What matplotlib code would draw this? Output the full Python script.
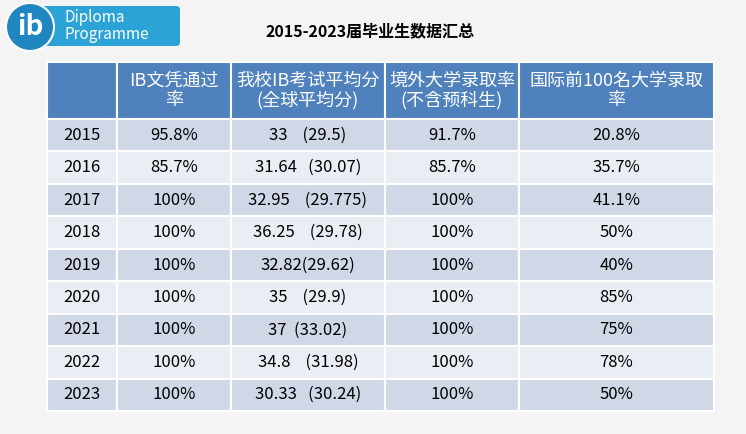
import matplotlib.pyplot as plt
from matplotlib import font_manager
from matplotlib.patches import Rectangle, FancyBboxPatch

# locate a sans CJK font file and register it
cjk_name = None
for path in font_manager.findSystemFonts():
    low = path.lower()
    if 'cjk' in low and 'sans' in low:
        try:
            font_manager.fontManager.addfont(path)
            name = font_manager.FontProperties(fname=path).get_name()
            if cjk_name is None or name.endswith('SC'):
                cjk_name = name
        except Exception:
            pass
plt.rcParams['font.family'] = [cjk_name or 'Noto Sans CJK SC', 'DejaVu Sans']

# Table data
title = '2015-2023届毕业生数据汇总'
headers = ['', 'IB文凭通过\n率', '我校IB考试平均分\n(全球平均分)', '境外大学录取率\n(不含预科生)', '国际前100名大学录取\n率']
years = ['2015', '2016', '2017', '2018', '2019', '2020', '2021', '2022', '2023']
pass_rate = ['95.8%', '85.7%', '100%', '100%', '100%', '100%', '100%', '100%', '100%']
avg_score = ['33    (29.5)', '31.64   (30.07)', '32.95    (29.775)', '36.25    (29.78)', '32.82(29.62)',
             '35    (29.9)', '37  (33.02)', '34.8    (31.98)', '30.33   (30.24)']
overseas_rate = ['91.7%', '85.7%', '100%', '100%', '100%', '100%', '100%', '100%', '100%']
top100_rate = ['20.8%', '35.7%', '41.1%', '50%', '40%', '85%', '75%', '78%', '50%']

W, H = 746, 434
fig = plt.figure(figsize=(W / 100, H / 100), dpi=100)
fig.patch.set_facecolor('#f4f4f4')
ax = fig.add_axes([0, 0, 1, 1])
ax.set_xlim(0, W)
ax.set_ylim(H, 0)
ax.axis('off')

col_x = [47, 117, 231, 385, 519, 714]
head_top, head_bot, table_bot = 62, 119, 411
row_h = (table_bot - head_bot) / len(years)

# header
for i in range(5):
    ax.add_patch(Rectangle((col_x[i], head_top), col_x[i + 1] - col_x[i], head_bot - head_top,
                           facecolor='#4f81bd', edgecolor='white', lw=1.5))
    ax.text((col_x[i] + col_x[i + 1]) / 2, (head_top + head_bot) / 2, headers[i],
            ha='center', va='center', color='white', fontsize=13, linespacing=1.1)

# body
columns = [years, pass_rate, avg_score, overseas_rate, top100_rate]
for r in range(len(years)):
    y0 = head_bot + r * row_h
    fc = '#d0d8e8' if r % 2 == 0 else '#e9edf4'
    for i in range(5):
        ax.add_patch(Rectangle((col_x[i], y0), col_x[i + 1] - col_x[i], row_h,
                               facecolor=fc, edgecolor='white', lw=1.5))
        ax.text((col_x[i] + col_x[i + 1]) / 2, y0 + row_h / 2, columns[i][r],
                ha='center', va='center', color='black', fontsize=12)

# title
ax.text(370, 31, title, ha='center', va='center', fontsize=11.5, fontweight='bold')

# IB logo (approximation)
ax.add_patch(FancyBboxPatch((30, 6), 150, 40, boxstyle='round,pad=0,rounding_size=4',
                            facecolor='#2ba3d6', edgecolor='none'))
ax.add_patch(plt.Circle((30, 27), 24, facecolor='#1f86c0', edgecolor='white', lw=1.5))
ax.text(30, 27, 'ib', ha='center', va='center', color='white', fontsize=20, fontweight='bold')
ax.text(64, 26, 'Diploma\nProgramme', ha='left', va='center', color='white', fontsize=11, linespacing=1.0)

fig.savefig('out.png', dpi=100, facecolor=fig.get_facecolor())
